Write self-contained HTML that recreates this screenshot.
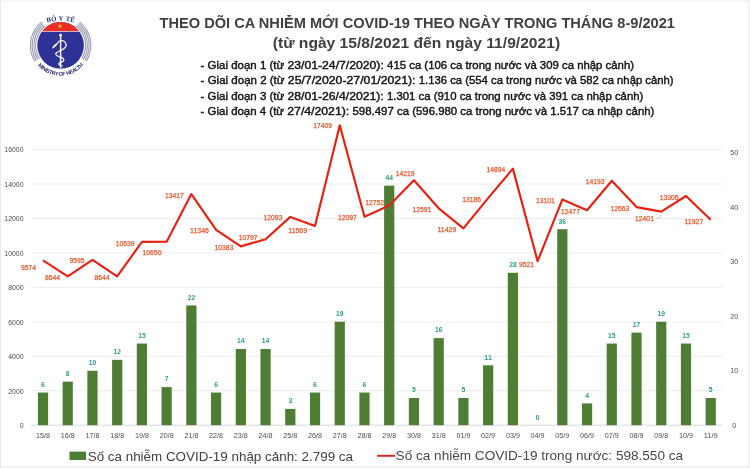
<!DOCTYPE html>
<html lang="vi"><head><meta charset="utf-8"><title>Theo dõi ca nhiễm mới COVID-19</title>
<style>
html,body{margin:0;padding:0;background:#fff;}
body{width:750px;height:468px;overflow:hidden;position:relative;font-family:"Liberation Sans",sans-serif;}
svg{position:absolute;left:0;top:0;display:block;}
.t{font-family:"Liberation Sans",sans-serif;}
.ax{font-size:7.9px;fill:#4c4c4c;}
.xl{font-size:7.7px;fill:#4e4e4e;}
.rl{font-size:8px;fill:#e4562a;stroke:#e4562a;stroke-width:0.25px;text-anchor:middle;}
.bl{font-size:8px;fill:#2f9c86;font-weight:bold;text-anchor:middle;}
</style></head><body>
<svg width="750" height="468" viewBox="0 0 750 468">
<rect x="0" y="0" width="750" height="468" fill="#ffffff"/>
<!-- faint frame -->
<rect x="0" y="0" width="750" height="2" fill="#f6f6f7"/>
<rect x="747.3" y="0" width="2.7" height="468" fill="#f5f5f6"/>
<rect x="0" y="0" width="1" height="468" fill="#e9e9ec"/>
<rect x="0" y="466.4" width="750" height="1.6" fill="#efedf2"/>

<g stroke="#ebebee" stroke-width="0.9">
<line x1="31" y1="390.8" x2="722.5" y2="390.8"/>
<line x1="31" y1="356.3" x2="722.5" y2="356.3"/>
<line x1="31" y1="321.8" x2="722.5" y2="321.8"/>
<line x1="31" y1="287.4" x2="722.5" y2="287.4"/>
<line x1="31" y1="252.9" x2="722.5" y2="252.9"/>
<line x1="31" y1="218.5" x2="722.5" y2="218.5"/>
<line x1="31" y1="184.0" x2="722.5" y2="184.0"/>
<line x1="31" y1="149.6" x2="722.5" y2="149.6"/>
</g>
<line x1="31" y1="425.2" x2="722.5" y2="425.2" stroke="#d4d4d8" stroke-width="0.9"/>
<g fill="#4e7d34">
<rect x="37.90" y="392.54" width="10.2" height="32.66"/>
<rect x="62.63" y="381.65" width="10.2" height="43.55"/>
<rect x="87.36" y="370.76" width="10.2" height="54.44"/>
<rect x="112.09" y="359.87" width="10.2" height="65.33"/>
<rect x="136.82" y="343.54" width="10.2" height="81.66"/>
<rect x="161.55" y="387.09" width="10.2" height="38.11"/>
<rect x="186.28" y="305.43" width="10.2" height="119.77"/>
<rect x="211.01" y="392.54" width="10.2" height="32.66"/>
<rect x="235.74" y="348.98" width="10.2" height="76.22"/>
<rect x="260.47" y="348.98" width="10.2" height="76.22"/>
<rect x="285.20" y="408.87" width="10.2" height="16.33"/>
<rect x="309.93" y="392.54" width="10.2" height="32.66"/>
<rect x="334.66" y="321.76" width="10.2" height="103.44"/>
<rect x="359.39" y="392.54" width="10.2" height="32.66"/>
<rect x="384.12" y="185.66" width="10.2" height="239.54"/>
<rect x="408.85" y="397.98" width="10.2" height="27.22"/>
<rect x="433.58" y="338.10" width="10.2" height="87.10"/>
<rect x="458.31" y="397.98" width="10.2" height="27.22"/>
<rect x="483.04" y="365.32" width="10.2" height="59.88"/>
<rect x="507.77" y="272.77" width="10.2" height="152.43"/>
<rect x="557.23" y="229.22" width="10.2" height="195.98"/>
<rect x="581.96" y="403.42" width="10.2" height="21.78"/>
<rect x="606.69" y="343.54" width="10.2" height="81.66"/>
<rect x="631.42" y="332.65" width="10.2" height="92.55"/>
<rect x="656.15" y="321.76" width="10.2" height="103.44"/>
<rect x="680.88" y="343.54" width="10.2" height="81.66"/>
<rect x="705.61" y="397.98" width="10.2" height="27.22"/>
</g>
<polyline points="43.00,260.29 67.73,276.31 92.46,259.93 117.19,276.31 141.92,241.94 166.65,241.75 191.38,194.09 216.11,229.77 240.84,246.35 265.57,239.22 290.30,216.90 315.03,225.92 339.76,125.33 364.49,216.83 389.22,205.55 413.95,180.28 438.68,208.32 463.41,228.34 488.14,198.07 512.87,168.65 537.60,261.20 562.33,199.54 587.06,210.28 611.79,180.73 636.52,207.08 661.25,211.59 685.98,196.00 710.71,219.76" fill="none" stroke="#e8200f" stroke-width="2.15" stroke-linejoin="round" stroke-linecap="butt"/>
<g stroke="#a8a8a8" stroke-width="0.6" fill="none"><path d="M258.6 237.6 L265.5 239"/><path d="M308.5 229.8 L312.5 229.4"/><path d="M656.5 218 L659.5 218 L661.2 214.6"/></g>
<g class="t ax" text-anchor="end">
<text x="23.6" y="428.0" textLength="3.9" lengthAdjust="spacingAndGlyphs">0</text>
<text x="23.6" y="393.6" textLength="15.4" lengthAdjust="spacingAndGlyphs">2000</text>
<text x="23.6" y="359.1" textLength="15.4" lengthAdjust="spacingAndGlyphs">4000</text>
<text x="23.6" y="324.6" textLength="15.4" lengthAdjust="spacingAndGlyphs">6000</text>
<text x="23.6" y="290.2" textLength="15.4" lengthAdjust="spacingAndGlyphs">8000</text>
<text x="23.6" y="255.8" textLength="19.3" lengthAdjust="spacingAndGlyphs">10000</text>
<text x="23.6" y="221.3" textLength="19.3" lengthAdjust="spacingAndGlyphs">12000</text>
<text x="23.6" y="186.8" textLength="19.3" lengthAdjust="spacingAndGlyphs">14000</text>
<text x="23.6" y="152.4" textLength="19.3" lengthAdjust="spacingAndGlyphs">16000</text>
</g>
<g class="t ax" text-anchor="middle">
<text x="734.2" y="427.6" textLength="4.0" lengthAdjust="spacingAndGlyphs">0</text>
<text x="734.2" y="373.2" textLength="7.9" lengthAdjust="spacingAndGlyphs">10</text>
<text x="734.2" y="318.7" textLength="7.9" lengthAdjust="spacingAndGlyphs">20</text>
<text x="734.2" y="264.3" textLength="7.9" lengthAdjust="spacingAndGlyphs">30</text>
<text x="734.2" y="209.8" textLength="7.9" lengthAdjust="spacingAndGlyphs">40</text>
<text x="734.2" y="155.4" textLength="7.9" lengthAdjust="spacingAndGlyphs">50</text>
</g>
<g class="t xl" text-anchor="middle">
<text x="43.0" y="437.6" textLength="14" lengthAdjust="spacingAndGlyphs">15/8</text>
<text x="67.7" y="437.6" textLength="14" lengthAdjust="spacingAndGlyphs">16/8</text>
<text x="92.5" y="437.6" textLength="14" lengthAdjust="spacingAndGlyphs">17/8</text>
<text x="117.2" y="437.6" textLength="14" lengthAdjust="spacingAndGlyphs">18/8</text>
<text x="141.9" y="437.6" textLength="14" lengthAdjust="spacingAndGlyphs">19/8</text>
<text x="166.7" y="437.6" textLength="14" lengthAdjust="spacingAndGlyphs">20/8</text>
<text x="191.4" y="437.6" textLength="14" lengthAdjust="spacingAndGlyphs">21/8</text>
<text x="216.1" y="437.6" textLength="14" lengthAdjust="spacingAndGlyphs">22/8</text>
<text x="240.8" y="437.6" textLength="14" lengthAdjust="spacingAndGlyphs">23/8</text>
<text x="265.6" y="437.6" textLength="14" lengthAdjust="spacingAndGlyphs">24/8</text>
<text x="290.3" y="437.6" textLength="14" lengthAdjust="spacingAndGlyphs">25/8</text>
<text x="315.0" y="437.6" textLength="14" lengthAdjust="spacingAndGlyphs">26/8</text>
<text x="339.8" y="437.6" textLength="14" lengthAdjust="spacingAndGlyphs">27/8</text>
<text x="364.5" y="437.6" textLength="14" lengthAdjust="spacingAndGlyphs">28/8</text>
<text x="389.2" y="437.6" textLength="14" lengthAdjust="spacingAndGlyphs">29/8</text>
<text x="413.9" y="437.6" textLength="14" lengthAdjust="spacingAndGlyphs">30/8</text>
<text x="438.7" y="437.6" textLength="14" lengthAdjust="spacingAndGlyphs">31/8</text>
<text x="463.4" y="437.6" textLength="14" lengthAdjust="spacingAndGlyphs">01/9</text>
<text x="488.1" y="437.6" textLength="14" lengthAdjust="spacingAndGlyphs">02/9</text>
<text x="512.9" y="437.6" textLength="14" lengthAdjust="spacingAndGlyphs">03/9</text>
<text x="537.6" y="437.6" textLength="14" lengthAdjust="spacingAndGlyphs">04/9</text>
<text x="562.3" y="437.6" textLength="14" lengthAdjust="spacingAndGlyphs">05/9</text>
<text x="587.1" y="437.6" textLength="14" lengthAdjust="spacingAndGlyphs">06/9</text>
<text x="611.8" y="437.6" textLength="14" lengthAdjust="spacingAndGlyphs">07/9</text>
<text x="636.5" y="437.6" textLength="14" lengthAdjust="spacingAndGlyphs">08/9</text>
<text x="661.2" y="437.6" textLength="14" lengthAdjust="spacingAndGlyphs">09/8</text>
<text x="686.0" y="437.6" textLength="14" lengthAdjust="spacingAndGlyphs">10/9</text>
<text x="710.7" y="437.6" textLength="14" lengthAdjust="spacingAndGlyphs">11/9</text>
</g>
<g class="t bl">
<text x="43.0" y="386.8" textLength="3.8" lengthAdjust="spacingAndGlyphs">6</text>
<text x="67.7" y="375.9" textLength="3.8" lengthAdjust="spacingAndGlyphs">8</text>
<text x="92.5" y="365.1" textLength="7.5" lengthAdjust="spacingAndGlyphs">10</text>
<text x="117.2" y="354.2" textLength="7.5" lengthAdjust="spacingAndGlyphs">12</text>
<text x="141.9" y="337.8" textLength="7.5" lengthAdjust="spacingAndGlyphs">15</text>
<text x="166.7" y="381.4" textLength="3.8" lengthAdjust="spacingAndGlyphs">7</text>
<text x="191.4" y="299.7" textLength="7.5" lengthAdjust="spacingAndGlyphs">22</text>
<text x="216.1" y="386.8" textLength="3.8" lengthAdjust="spacingAndGlyphs">6</text>
<text x="240.8" y="343.3" textLength="7.5" lengthAdjust="spacingAndGlyphs">14</text>
<text x="265.6" y="343.3" textLength="7.5" lengthAdjust="spacingAndGlyphs">14</text>
<text x="290.3" y="403.2" textLength="3.8" lengthAdjust="spacingAndGlyphs">3</text>
<text x="315.0" y="386.8" textLength="3.8" lengthAdjust="spacingAndGlyphs">6</text>
<text x="339.8" y="316.1" textLength="7.5" lengthAdjust="spacingAndGlyphs">19</text>
<text x="364.5" y="386.8" textLength="3.8" lengthAdjust="spacingAndGlyphs">6</text>
<text x="389.2" y="180.0" textLength="7.5" lengthAdjust="spacingAndGlyphs">44</text>
<text x="413.9" y="392.3" textLength="3.8" lengthAdjust="spacingAndGlyphs">5</text>
<text x="438.7" y="332.4" textLength="7.5" lengthAdjust="spacingAndGlyphs">16</text>
<text x="463.4" y="392.3" textLength="3.8" lengthAdjust="spacingAndGlyphs">5</text>
<text x="488.1" y="359.6" textLength="7.5" lengthAdjust="spacingAndGlyphs">11</text>
<text x="512.9" y="267.1" textLength="7.5" lengthAdjust="spacingAndGlyphs">28</text>
<text x="537.6" y="419.5" textLength="3.8" lengthAdjust="spacingAndGlyphs">0</text>
<text x="562.3" y="223.5" textLength="7.5" lengthAdjust="spacingAndGlyphs">36</text>
<text x="587.1" y="397.7" textLength="3.8" lengthAdjust="spacingAndGlyphs">4</text>
<text x="611.8" y="337.8" textLength="7.5" lengthAdjust="spacingAndGlyphs">15</text>
<text x="636.5" y="327.0" textLength="7.5" lengthAdjust="spacingAndGlyphs">17</text>
<text x="661.2" y="316.1" textLength="7.5" lengthAdjust="spacingAndGlyphs">19</text>
<text x="686.0" y="337.8" textLength="7.5" lengthAdjust="spacingAndGlyphs">15</text>
<text x="710.7" y="392.3" textLength="3.8" lengthAdjust="spacingAndGlyphs">5</text>
</g>
<g class="t rl">
<text x="28.5" y="270.4" textLength="15.0" lengthAdjust="spacingAndGlyphs">9574</text>
<text x="52.6" y="280.2" textLength="15.0" lengthAdjust="spacingAndGlyphs">8644</text>
<text x="76.9" y="263.3" textLength="15.0" lengthAdjust="spacingAndGlyphs">9595</text>
<text x="102.0" y="280.2" textLength="15.0" lengthAdjust="spacingAndGlyphs">8644</text>
<text x="125.1" y="245.6" textLength="18.8" lengthAdjust="spacingAndGlyphs">10639</text>
<text x="152.0" y="254.5" textLength="18.8" lengthAdjust="spacingAndGlyphs">10650</text>
<text x="174.4" y="197.6" textLength="18.8" lengthAdjust="spacingAndGlyphs">13417</text>
<text x="199.5" y="233.3" textLength="18.8" lengthAdjust="spacingAndGlyphs">11346</text>
<text x="224.0" y="250.1" textLength="18.8" lengthAdjust="spacingAndGlyphs">10383</text>
<text x="248.1" y="240.2" textLength="18.8" lengthAdjust="spacingAndGlyphs">10797</text>
<text x="273.0" y="220.3" textLength="18.8" lengthAdjust="spacingAndGlyphs">12093</text>
<text x="297.7" y="233.2" textLength="18.8" lengthAdjust="spacingAndGlyphs">11569</text>
<text x="322.7" y="128.0" textLength="18.8" lengthAdjust="spacingAndGlyphs">17409</text>
<text x="347.4" y="220.3" textLength="18.8" lengthAdjust="spacingAndGlyphs">12097</text>
<text x="374.6" y="205.3" textLength="18.8" lengthAdjust="spacingAndGlyphs">12752</text>
<text x="405.2" y="176.3" textLength="18.8" lengthAdjust="spacingAndGlyphs">14219</text>
<text x="421.9" y="211.6" textLength="18.8" lengthAdjust="spacingAndGlyphs">12591</text>
<text x="446.9" y="231.8" textLength="18.8" lengthAdjust="spacingAndGlyphs">11429</text>
<text x="471.6" y="201.6" textLength="18.8" lengthAdjust="spacingAndGlyphs">13186</text>
<text x="495.9" y="172.2" textLength="18.8" lengthAdjust="spacingAndGlyphs">14894</text>
<text x="526.4" y="267.0" textLength="15.0" lengthAdjust="spacingAndGlyphs">9521</text>
<text x="545.3" y="203.0" textLength="18.8" lengthAdjust="spacingAndGlyphs">13101</text>
<text x="570.5" y="213.9" textLength="18.8" lengthAdjust="spacingAndGlyphs">12477</text>
<text x="595.1" y="184.4" textLength="18.8" lengthAdjust="spacingAndGlyphs">14193</text>
<text x="619.8" y="210.6" textLength="18.8" lengthAdjust="spacingAndGlyphs">12663</text>
<text x="644.5" y="220.9" textLength="18.8" lengthAdjust="spacingAndGlyphs">12401</text>
<text x="669.2" y="200.1" textLength="18.8" lengthAdjust="spacingAndGlyphs">13306</text>
<text x="693.9" y="223.5" textLength="18.8" lengthAdjust="spacingAndGlyphs">11927</text>
</g>
<g class="t" fill="#404040" font-weight="bold" font-size="14.7px">
<text x="159.6" y="27.6" textLength="515.4" lengthAdjust="spacingAndGlyphs">THEO DÕI CA NHIỄM MỚI COVID-19 THEO NGÀY TRONG THÁNG 8-9/2021</text>
<text x="272.8" y="48" textLength="287.3" lengthAdjust="spacingAndGlyphs">(từ ngày 15/8/2021 đến ngày 11/9/2021)</text>
</g>
<g class="t" fill="#141414" font-size="11.4px" stroke="#141414" stroke-width="0.42" lengthAdjust="spacingAndGlyphs">
<text x="200.6" y="69" textLength="83.6" lengthAdjust="spacingAndGlyphs">- Giai đoạn 1 (từ</text>
<text x="287.5" y="69" textLength="96.3" lengthAdjust="spacingAndGlyphs">23/01-24/7/2020):</text>
<text x="387.1" y="69" textLength="246.9" lengthAdjust="spacingAndGlyphs">415 ca (106 ca trong nước và 309 ca nhập cảnh)</text>
<text x="200.6" y="84.1" textLength="83.9" lengthAdjust="spacingAndGlyphs">- Giai đoạn 2 (từ</text>
<text x="287.8" y="84.1" textLength="127.7" lengthAdjust="spacingAndGlyphs">25/7/2020-27/01/2021):</text>
<text x="418.8" y="84.1" textLength="254.8" lengthAdjust="spacingAndGlyphs">1.136 ca (554 ca trong nước và 582 ca nhập cảnh)</text>
<text x="200.6" y="100" textLength="83.6" lengthAdjust="spacingAndGlyphs">- Giai đoạn 3 (từ</text>
<text x="287.5" y="100" textLength="96.2" lengthAdjust="spacingAndGlyphs">28/01-26/4/2021):</text>
<text x="387.0" y="100" textLength="256.3" lengthAdjust="spacingAndGlyphs">1.301 ca (910 ca trong nước và 391 ca nhập cảnh)</text>
<text x="200.6" y="115.1" textLength="83.4" lengthAdjust="spacingAndGlyphs">- Giai đoạn 4 (từ</text>
<text x="287.3" y="115.1" textLength="61.9" lengthAdjust="spacingAndGlyphs">27/4/2021):</text>
<text x="352.5" y="115.1" textLength="301.9" lengthAdjust="spacingAndGlyphs">598.497 ca (596.980 ca trong nước và 1.517 ca nhập cảnh)</text>
</g>

<rect x="69.5" y="451.6" width="16.6" height="8.4" fill="#4e7d34"/>
<text class="t" x="87.7" y="460.6" font-size="13.3px" fill="#404040" textLength="265.3" lengthAdjust="spacingAndGlyphs">Số ca nhiễm COVID-19 nhập cảnh: 2.799 ca</text>
<line x1="377.1" y1="455.8" x2="395.2" y2="455.8" stroke="#d82a24" stroke-width="2"/>
<text class="t" x="395.6" y="460.3" font-size="13.5px" fill="#474747" textLength="287.5" lengthAdjust="spacingAndGlyphs">Số ca nhiễm COVID-19 trong nước: 598.550 ca</text>

<g id="logo">
<defs>
<clipPath id="lc"><circle cx="60.6" cy="45.4" r="23.3"/></clipPath>
<path id="arcTop" d="M 38.60 25.94 A 48 48 0 0 1 82.60 25.94"/>
<path id="arcBot" d="M 30.76 50.66 A 30.3 30.3 0 0 0 90.44 50.66"/>
</defs>
<g clip-path="url(#lc)">
<rect x="36" y="21" width="50" height="50" fill="#2e3296"/>
<rect x="36" y="21" width="50" height="10.3" fill="#ea2f26"/>
<rect x="36" y="31.0" width="50" height="0.75" fill="#f4dfe6"/>
</g>
<polygon fill="#f8cf2c" points="60.00,23.80 60.59,25.49 62.38,25.53 60.95,26.61 61.47,28.32 60.00,27.30 58.53,28.32 59.05,26.61 57.62,25.53 59.41,25.49"/>
<g fill="none" stroke="#9c9eb3" stroke-width="1.1">
<path d="M 44.87 25.97 A 25.0 25.0 0 0 0 39.40 58.65"/>
<path d="M 76.33 25.97 A 25.0 25.0 0 0 1 81.80 58.65"/>
<path d="M 43.77 24.61 A 26.75 26.75 0 0 0 37.91 59.58"/>
<path d="M 77.43 24.61 A 26.75 26.75 0 0 1 83.29 59.58"/>
<path d="M 42.66 23.25 A 28.5 28.5 0 0 0 36.43 60.50"/>
<path d="M 78.54 23.25 A 28.5 28.5 0 0 1 84.77 60.50"/>
<path d="M 41.59 21.93 A 30.2 30.2 0 0 0 34.99 61.40"/>
<path d="M 79.61 21.93 A 30.2 30.2 0 0 1 86.21 61.40"/>
</g>
<g stroke="#ffffff" fill="none" stroke-linecap="round" stroke-linejoin="round">
<line x1="60.6" y1="35.6" x2="60.6" y2="68.3" stroke-width="1.5" stroke-linecap="butt" stroke="#eef0fb"/>
<path d="M 57.6 43.0 C 58.4 41.4, 60.2 40.5, 62.2 40.7 C 65.2 41.1, 66.8 43.8, 65.8 46.4 C 64.8 48.8, 62.4 49.6, 60.4 50.6 C 57.8 51.8, 55.2 52.4, 55.8 54.4 C 56.4 56.2, 59.2 56.6, 61.0 57.4 C 63.2 58.4, 64.6 59.2, 63.6 60.6 C 62.8 61.8, 61.2 62.0, 60.0 62.6 C 58.6 63.4, 58.4 64.4, 59.6 65.0 C 60.4 65.4, 61.4 65.5, 62.2 65.8" stroke-width="1.2"/>
</g>
<path d="M 51.9 48.7 C 52.6 46.2, 54.6 43.6, 58.0 42.4 C 57.6 44.8, 55.6 47.0, 51.9 48.7 Z" fill="#ffffff"/>
<circle cx="60.6" cy="35.2" r="1.35" fill="#ffffff"/>
<text font-family="'Liberation Serif',serif" font-weight="bold" font-size="6.7px" fill="#2a2f6e" letter-spacing="0" word-spacing="0.6"><textPath href="#arcTop" startOffset="50%" text-anchor="middle">BỘ Y TẾ</textPath></text>
<text font-family="'Liberation Sans',sans-serif" font-weight="bold" font-size="5.5px" fill="#2a2f6e" letter-spacing="-0.42"><textPath href="#arcBot" startOffset="50%" text-anchor="middle">MINISTRY OF HEALTH</textPath></text>
</g>

</svg></body></html>
